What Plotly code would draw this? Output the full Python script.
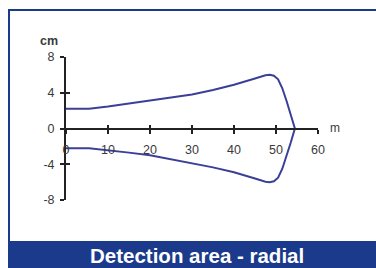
import plotly.graph_objects as go

# ---- data ----
dist_upper = [0, 5.5, 10, 15, 20, 25, 30, 35, 40, 45, 47.5, 48.5, 49.5, 50.5, 51.5, 52.5, 53.5, 54.5]
width_upper = [2.2, 2.2, 2.45, 2.8, 3.15, 3.45, 3.8, 4.3, 4.9, 5.6, 5.95, 6.0, 5.9, 5.5, 4.5, 3.1, 1.6, 0]
dist_lower = [54.5, 53.5, 52.5, 51.5, 50.5, 49.5, 48.5, 47.5, 45, 40, 35, 30, 25, 20, 15, 10, 5.5, 0]
width_lower = [0, -1.6, -3.1, -4.5, -5.5, -5.9, -6.0, -5.95, -5.6, -4.9, -4.35, -3.9, -3.45, -3.0, -2.7, -2.4, -2.2, -2.2]

x_ticks = [0, 10, 20, 30, 40, 50, 60]
x_tick_labels = ["0", "10", "20", "30", "40", "50", "60"]
y_ticks = [-8, -4, 0, 4, 8]
y_tick_labels = ["-8", "-4", "0", "4", "8"]
title_text = "Detection area - radial"

W, H = 376, 268
L, R, T, B = 66, 318, 57, 200  # plot area in pixels


def px(xp):
    return (xp - L) / (R - L)


def py(yp):
    return (B - yp) / (B - T)


NAVY = "#1b3a8b"
CURVE = "#3b3f98"
AX = "#222222"
TXT = "#3a3a3a"
FONT = "Liberation Sans, Arial, sans-serif"
TICK = 12.5

fig = go.Figure()
fig.add_trace(go.Scatter(
    x=dist_upper + dist_lower, y=width_upper + width_lower,
    mode="lines", line=dict(color=CURVE, width=2), hoverinfo="skip",
    cliponaxis=False, showlegend=False,
))
# helper trace for overlay axis (crossing ticks)
fig.add_trace(go.Scatter(x=[0], y=[0], mode="markers", marker=dict(opacity=0),
                         xaxis="x2", yaxis="y2", showlegend=False, hoverinfo="skip"))

common_x = dict(range=[0, 60], tickvals=x_ticks, ticktext=x_tick_labels, showgrid=False, zeroline=False,
                anchor="free", position=0.5, side="bottom", ticklen=4, tickwidth=1.5, tickcolor=AX)
common_y = dict(range=[-8, 8], tickvals=y_ticks, ticktext=y_tick_labels, showgrid=False, zeroline=False,
                ticklen=4, tickwidth=1.5, tickcolor=AX)


def label(text, xp, yp, size=11, color=TXT):
    return dict(text=text, xref="paper", yref="paper", x=px(xp), y=py(yp), showarrow=False,
                xanchor="center", yanchor="middle", font=dict(size=size, color=color, family=FONT))


fig.update_layout(
    width=W, height=H,
    margin=dict(l=L, r=W - R, t=T, b=H - B, pad=0),
    paper_bgcolor="white", plot_bgcolor="rgba(0,0,0,0)",
    font=dict(family=FONT, size=11, color=TXT),
    xaxis=dict(**common_x, showline=True, linecolor=AX, linewidth=2, ticks="outside",
               ticklabelstandoff=5, tickfont=dict(size=TICK, color=TXT)),
    yaxis=dict(**common_y, showline=True, linecolor=AX, linewidth=2, ticks="outside",
               ticklabelstandoff=3, tickfont=dict(size=TICK, color=TXT)),
    xaxis2=dict(**common_x, overlaying="x", ticks="inside", showticklabels=False, showline=False),
    yaxis2=dict(**common_y, overlaying="y", anchor="x2", ticks="inside", showticklabels=False, showline=False),
    shapes=[
        dict(type="rect", xref="paper", yref="paper", x0=px(9), x1=px(390), y0=py(10), y1=py(280),
             line=dict(color=NAVY, width=2), fillcolor="rgba(0,0,0,0)", layer="below"),
        dict(type="rect", xref="paper", yref="paper", x0=px(8), x1=px(390), y0=py(241), y1=py(280),
             line=dict(width=0), fillcolor=NAVY, layer="below"),
    ],
    annotations=[
        label("<b>cm</b>", 48.5, 41, size=12.5),
        label("m", 335, 128, size=12),
        label("<b>" + title_text + "</b>", 197, 255, size=20.5, color="white"),
    ],
)

fig.write_html("out.html", config={"displayModeBar": False},
               post_script="document.body.style.margin='0';document.body.style.overflow='hidden';")
